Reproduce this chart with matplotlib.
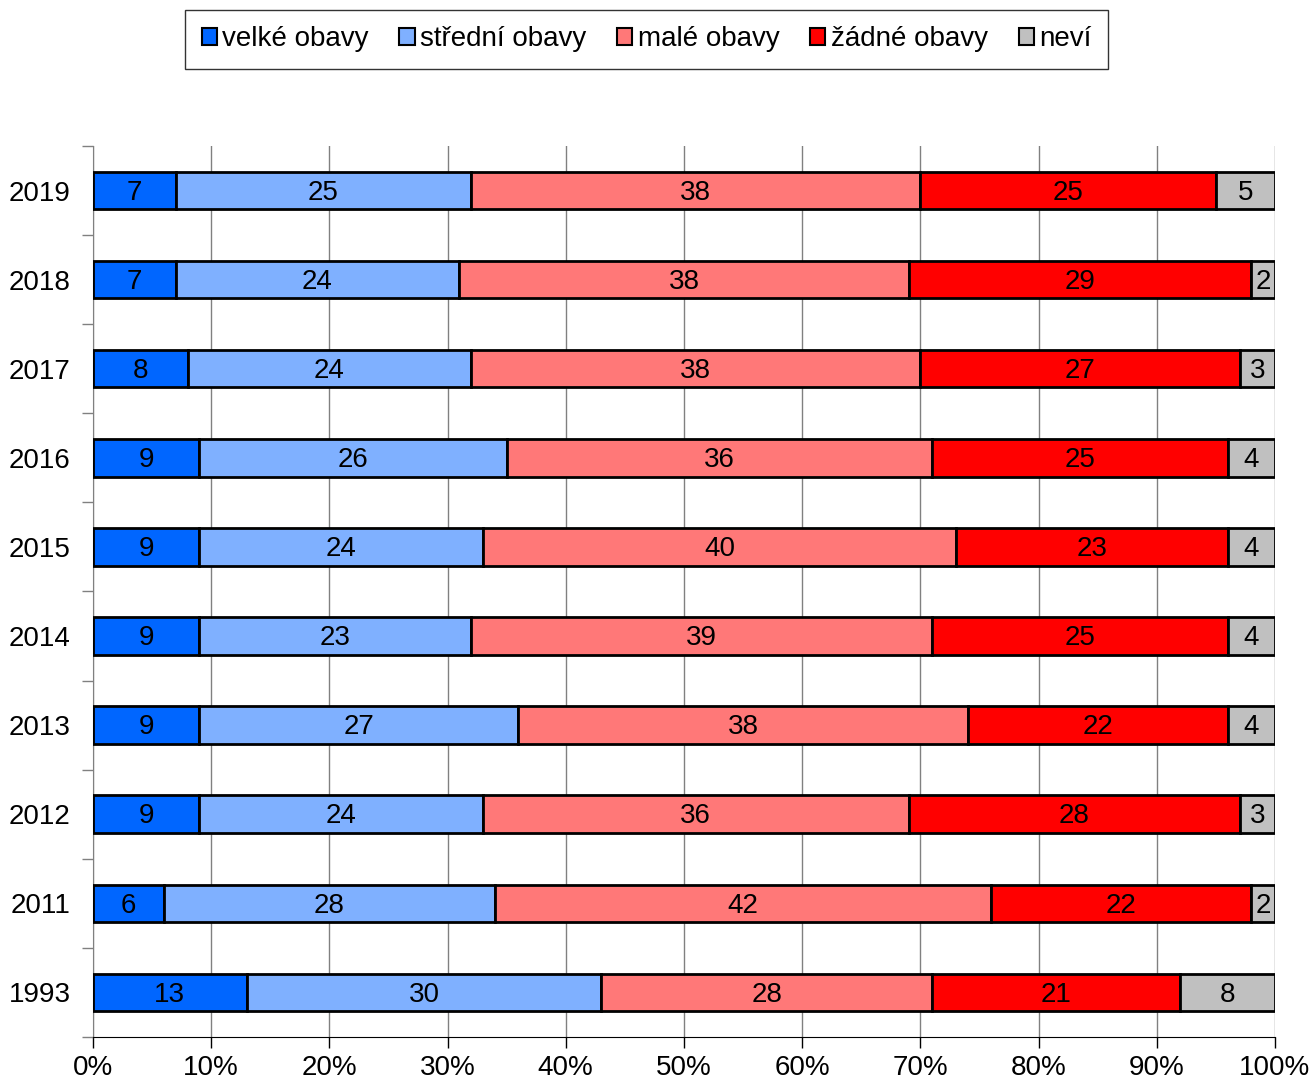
import numpy as np
import matplotlib.pyplot as plt
from matplotlib.patches import Patch

plt.rcParams['font.family'] = ['Liberation Sans', 'DejaVu Sans']

years = ['1993', '2011', '2012', '2013', '2014', '2015', '2016', '2017', '2018', '2019']
series = ['velké obavy', 'střední obavy', 'malé obavy', 'žádné obavy', 'neví']
velke = [13, 6, 9, 9, 9, 9, 9, 8, 7, 7]
stredni = [30, 28, 24, 27, 23, 24, 26, 24, 24, 25]
male = [28, 42, 36, 38, 39, 40, 36, 38, 38, 38]
zadne = [21, 22, 28, 22, 25, 23, 25, 27, 29, 25]
nevi = [8, 2, 3, 4, 4, 4, 4, 3, 2, 5]
colors = ['#0066ff', '#7fb0ff', '#ff7878', '#ff0000', '#c0c0c0']

data = [velke, stredni, male, zadne, nevi]

fig = plt.figure(figsize=(13.09, 10.79), dpi=100)
ax = fig.add_axes([0.071, 0.039, 0.903, 0.8257])

y = np.arange(len(years))
left = np.zeros(len(years))
for vals, col in zip(data, colors):
    vals = np.array(vals, dtype=float)
    ax.barh(y, vals, left=left, height=0.42, color=col, edgecolor='black', linewidth=2, zorder=3)
    for yi, l, v in zip(y, left, vals):
        ax.text(l + v / 2, yi - 0.025, str(int(v)), ha='center', va='center', fontsize=20, zorder=4)
    left += vals

ax.set_xlim(0, 100)
ax.set_ylim(-0.5, len(years) - 0.5)
ax.set_xticks(np.arange(0, 101, 10))
ax.set_xticklabels([f'{v}%' for v in range(0, 101, 10)], fontsize=20)
ax.set_yticks(y)
ax.set_yticklabels(years, fontsize=20)
ax.set_yticks(np.arange(-0.5, len(years), 1), minor=True)
ax.tick_params(axis='y', which='major', length=0, pad=16)
ax.tick_params(axis='y', which='minor', length=8, color='#808080', width=1)
ax.tick_params(axis='x', length=8, color='black', width=1, pad=5)
ax.grid(axis='x', color='#808080', linewidth=1, zorder=0)
for s in ['top', 'right']:
    ax.spines[s].set_visible(False)
ax.spines['left'].set_color('#808080')
ax.spines['bottom'].set_color('black')

handles = [Patch(facecolor=c, edgecolor='black', linewidth=1.5) for c in colors]
leg = fig.legend(handles, series, loc='upper center', bbox_to_anchor=(0.494, 0.991), ncol=5,
                 fontsize=20, frameon=True, fancybox=False, edgecolor='black',
                 handlelength=0.55, handleheight=0.55, handletextpad=0.2, columnspacing=1.1,
                 borderpad=0.6, borderaxespad=0)
leg.get_frame().set_linewidth(1)

fig.savefig('out.png', dpi=100)
